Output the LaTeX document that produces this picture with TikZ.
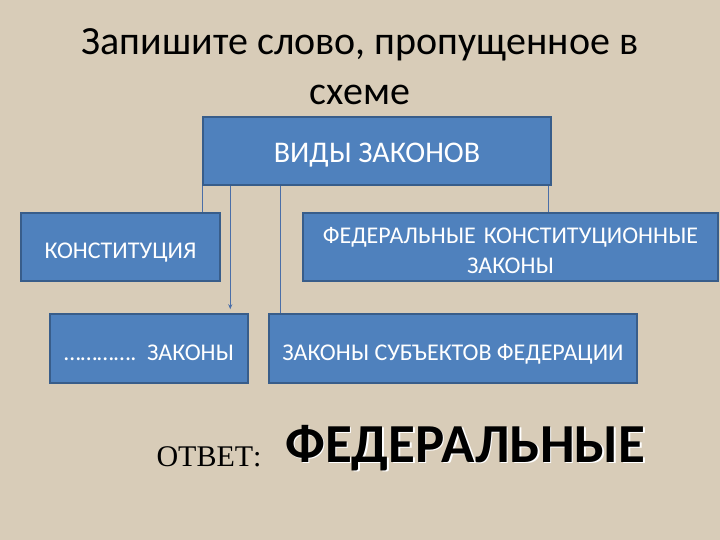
\documentclass[tikz,border=0pt]{standalone}
\usepackage{fontspec}
\setmainfont{Carlito}
\newfontfamily\answerfont{Liberation Serif}
\definecolor{mybeige}{RGB}{216,204,184}
\definecolor{myblue}{HTML}{4F81BD}
\definecolor{myborder}{HTML}{385D8A}
\definecolor{myline}{HTML}{4A6EA8}
\usetikzlibrary{positioning, calc, arrows.meta}
\tikzset{
	lawnode/.style={
			rectangle,
			draw=myborder,
			line width=1.5pt,
			fill=myblue,
			text=white,
			font=\fontsize{24}{30}\selectfont,
			text height=23.5pt,
			text depth=0pt,
			inner sep=0pt,
			align=center
		},
	titletext/.style={
			font=\fontsize{40}{50}\selectfont,
			anchor=base
		},
	answertext/.style={
			font=\bfseries\fontsize{55}{64}\selectfont,
			inner sep=0pt,
			anchor=west
		},
	linkline/.style={
			draw=myline,
			line width=1.2pt
		}
}

\begin{document}
\begin{tikzpicture}[x=1pt, y=-1pt]
\fill[mybeige] (0,0) rectangle (720,540);
\useasboundingbox (0,0) rectangle (720,540);

\node[titletext] (title1) at (360,55) {Запишите слово, пропущенное в};
\node[titletext] (title2) at (360,105) {схеме};

\node[lawnode, minimum width=348, minimum height=68, font=\fontsize{30}{36}\selectfont] (n1) at (377,151) {ВИДЫ ЗАКОНОВ};
\node[lawnode, minimum width=199, minimum height=68] (n2) at (120.5,247) {КОНСТИТУЦИЯ};
\node[lawnode, minimum width=415, minimum height=68, text width=405, text depth=30pt] (n3) at (510.5,247) {ФЕДЕРАЛЬНЫЕ КОНСТИТУЦИОННЫЕ\\ЗАКОНЫ};
\node[lawnode, minimum width=198, minimum height=69] (n4) at (149,348.5) {………….\ \ ЗАКОНЫ};
\node[lawnode, minimum width=368, minimum height=69] (n5) at (453,348.5) {ЗАКОНЫ СУБЪЕКТОВ ФЕДЕРАЦИИ};

\draw[linkline] (n1.south west) -- (n1.south west |- n2.north);
\draw[linkline, -{Stealth[length=5pt, width=4pt]}, shorten >=4pt] ([xshift=28]n1.south west) -- ([xshift=28]n1.south west |- n4.north);
\draw[linkline] ([xshift=78]n1.south west) -- ([xshift=78]n1.south west |- n5.north);
\draw[linkline] ([xshift=-3]n1.south east) -- ([xshift=-3]n1.south east |- n3.north);

\node[font=\answerfont\fontsize{30}{36}\selectfont, anchor=west] (ans) at (153,457) {ОТВЕТ:};
\node[answertext, text=white] (word2) at (286.5,449.5) {ФЕДЕРАЛЬНЫЕ};
\node[answertext, text=black] (word) at (285,448) {ФЕДЕРАЛЬНЫЕ};
\end{tikzpicture}
\end{document}
